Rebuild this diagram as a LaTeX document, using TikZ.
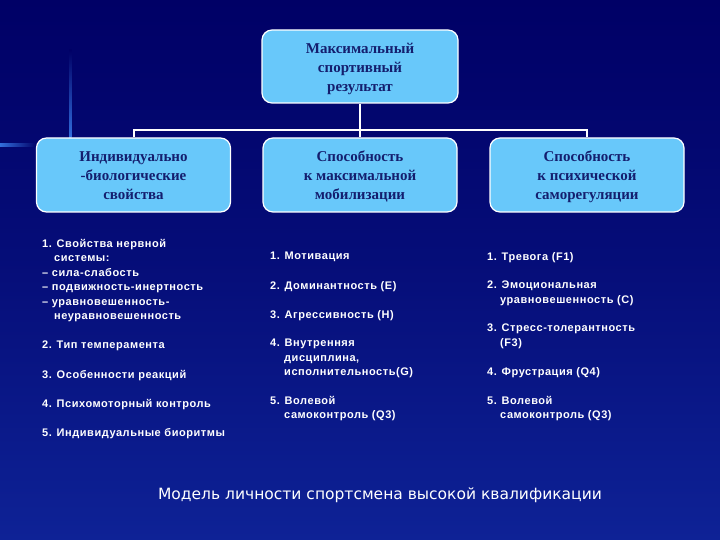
\documentclass[tikz,border=0pt]{standalone}
\usepackage{fontspec}
\setmainfont{Liberation Serif}
\newfontfamily\bodyfont[LetterSpace=5]{Liberation Sans}
\newfontfamily\capfont{DejaVu Sans}
\definecolor{bgtop}{RGB}{0,0,102}
\definecolor{bgbot}{RGB}{14,34,150}
\definecolor{boxfill}{RGB}{104,200,250}
\definecolor{headtxt}{RGB}{20,30,110}
\definecolor{deco}{RGB}{50,110,220}
\newcommand{\toplift}{\rule{0pt}{17.2pt}}
\tikzset{
  headbox/.style={draw=white, line width=1.2pt, fill=boxfill, rounded corners=10pt,
    minimum width=194pt, minimum height=74pt, align=center, text=headtxt,
    font=\bfseries\fontsize{15}{18.8}\selectfont, inner sep=0pt},
  link/.style={draw=white, line width=2pt},
  item/.style={anchor=north west, inner sep=0pt, align=left, text=white,
    font=\bodyfont\bfseries\fontsize{11}{14.5}\selectfont},
  caption/.style={text=white, font=\capfont\fontsize{15.5}{18}\selectfont, inner sep=0pt}
}
\begin{document}
\begin{tikzpicture}[x=1pt,y=-1pt]
\useasboundingbox (0,0) rectangle (720,540);
\shade[top color=bgtop, bottom color=bgbot, middle color=bgtop!60!bgbot] (0,0) rectangle (720,540);
% template decoration
\shade[top color=bgtop, bottom color=deco] (69,50) rectangle (71.5,138);
\shade[left color=deco, right color=bgtop] (0,144) rectangle (37,146.5);

\node[headbox, minimum width=196pt, minimum height=73pt] (top) at (360,66.5) {\toplift Максимальный\\\strut спортивный\\\strut результат};
\node[headbox] (b1) at (133.5,175) {\toplift Индивидуально\\\strut -биологические\\\strut свойства};
\node[headbox] (b2) at (360,175) {\toplift Способность\\\strut к максимальной\\\strut мобилизации};
\node[headbox] (b3) at (587,175) {\toplift Способность\\\strut к психической\\\strut саморегуляции};

\coordinate (bus) at (360,130);
\draw[link] (top.south) -- (b2.north);
\draw[link] (b1.north) -- (b1.north |- bus) -- (b3.north |- bus) -- (b3.north);

% left column
\node[item] (l1) at (42,239) {1. Свойства нервной\\\hspace*{12pt}системы:\\– сила-слабость\\– подвижность-инертность\\– уравновешенность-\\\hspace*{12pt}неуравновешенность};
\node[item] (l2) at (42,341) {2. Тип темперамента};
\node[item] (l3) at (42,370) {3. Особенности реакций};
\node[item] (l4) at (42,399) {4. Психомоторный контроль};
\node[item] (l5) at (42,428) {5. Индивидуальные биоритмы};

% middle column
\node[item] (m1) at (270,252) {1. Мотивация};
\node[item] (m2) at (270,281) {2. Доминантность (E)};
\node[item] (m3) at (270,310) {3. Агрессивность (H)};
\node[item] (m4) at (270,339) {4. Внутренняя\\\hspace*{14pt}дисциплина,\\\hspace*{14pt}исполнительность(G)};
\node[item] (m5) at (270,396) {5. Волевой\\\hspace*{14pt}самоконтроль (Q3)};

% right column
\node[item] (r1) at (487,252) {1. Тревога (F1)};
\node[item] (r2) at (487,281) {2. Эмоциональная\\\hspace*{13pt}уравновешенность (С)};
\node[item] (r3) at (487,324) {3. Стресс-толерантность\\\hspace*{13pt}(F3)};
\node[item] (r4) at (487,367) {4. Фрустрация (Q4)};
\node[item] (r5) at (487,396) {5. Волевой\\\hspace*{13pt}самоконтроль (Q3)};

\node[caption] (cap) at (380,495) {Модель личности спортсмена высокой квалификации};
\end{tikzpicture}
\end{document}
